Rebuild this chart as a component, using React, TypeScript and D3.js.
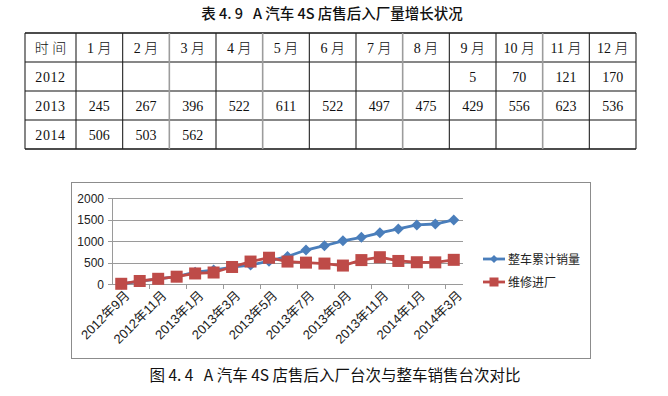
import React from "react";
import * as d3 from "d3";

const tableTitle = "表 4. 9   A 汽车 4S 店售后入厂量增长状况";
const tableHeader = ["时 间", "1 月", "2 月", "3 月", "4 月", "5 月", "6 月", "7 月", "8 月", "9 月", "10 月", "11 月", "12 月"];
const row2012 = ["2012", "", "", "", "", "", "", "", "", "5", "70", "121", "170"];
const row2013 = ["2013", "245", "267", "396", "522", "611", "522", "497", "475", "429", "556", "623", "536"];
const row2014 = ["2014", "506", "503", "562", "", "", "", "", "", "", "", "", ""];
const grayColLines = [3, 5, 8, 11];

const months = [
  "2012年9月", "2012年10月", "2012年11月", "2012年12月",
  "2013年1月", "2013年2月", "2013年3月", "2013年4月", "2013年5月", "2013年6月",
  "2013年7月", "2013年8月", "2013年9月", "2013年10月", "2013年11月", "2013年12月",
  "2014年1月", "2014年2月", "2014年3月",
];
const salesCum = [0, 60, 120, 170, 275, 325, 390, 440, 530, 640, 790, 890, 1005, 1085, 1190, 1280, 1375, 1395, 1490];
const serviceIn = [5, 70, 121, 170, 245, 267, 396, 522, 611, 522, 497, 475, 429, 556, 623, 536, 506, 503, 562];
const yTicks = [0, 500, 1000, 1500, 2000];
const seriesNames = ["整车累计销量", "维修进厂"];
const caption = "图 4. 4   A 汽车 4S 店售后入厂台次与整车销售台次对比";

const BLUE = "#4A7EBB";
const RED = "#BE4B48";
const GRID = "#9a9a9a";
const chartFont = "'Liberation Sans', 'Noto Sans CJK SC', sans-serif";
const serifFont = "'Liberation Serif', 'Noto Sans CJK SC', serif";
const pre = { whiteSpace: "pre" as const };

export default function App() {
  // table geometry
  const tLeft = 25, tRight = 636, tTop = 33, rowH = 29;
  const firstW = 51;
  const colW = (tRight - tLeft - firstW) / 12;
  const colX = (i: number) => (i === 0 ? tLeft : tLeft + firstW + (i - 1) * colW);
  const colC = (i: number) => (i === 0 ? tLeft + firstW / 2 : colX(i) + colW / 2);
  const rows = [tableHeader, row2012, row2013, row2014];
  const tBottom = tTop + rowH * rows.length;

  // chart geometry
  const pL = 112, pR = 463, pT = 198, pB = 284;
  const x = d3.scaleBand<string>().domain(months).range([pL, pR]).paddingInner(0).paddingOuter(0);
  const y = d3.scaleLinear().domain([0, 2000]).range([pB, pT]);
  const cx = (i: number) => (x(months[i]) as number) + x.bandwidth() / 2;
  const line = d3.line<number>().x((_, i) => cx(i)).y((d) => y(d));
  const diamond = (s: number) => `M0,${-s}L${s},0L0,${s}L${-s},0Z`;

  return (
    <svg width={668} height={396} style={{ position: "absolute", left: 0, top: 0, background: "#fff" }}>
      <rect x={0} y={0} width={668} height={396} fill="#fff" />
      {/* table title */}
      <text x={332} y={19} textAnchor="middle" fontFamily="'Noto Sans CJK SC', sans-serif" fontSize={14.5} fontWeight={500} fill="#111" style={pre}>
        {tableTitle}
      </text>
      {/* table cells text */}
      {rows.map((r, ri) =>
        r.map((c, ci) => (
          <text key={`t${ri}-${ci}`} x={colC(ci)} y={tTop + ri * rowH + rowH / 2 + 5} textAnchor="middle"
            fontFamily={serifFont} fontSize={14} fill="#111" style={pre} fontWeight={ri === 0 ? 300 : 400}
            letterSpacing={ci === 0 && ri > 0 ? 0.6 : 0}>
            {c}
          </text>
        ))
      )}
      {/* table lines */}
      {d3.range(rows.length + 1).map((i) => (
        <line key={`h${i}`} x1={tLeft} x2={tRight} y1={tTop + i * rowH} y2={tTop + i * rowH} stroke="#111" strokeWidth={i === 0 || i === rows.length ? 1.4 : 1.1} />
      ))}
      {d3.range(14).map((i) => (
        <line key={`v${i}`} x1={i === 13 ? tRight : colX(i)} x2={i === 13 ? tRight : colX(i)} y1={tTop} y2={tBottom}
          stroke={grayColLines.includes(i) ? "#9c9c9c" : "#222"} strokeWidth={grayColLines.includes(i) ? 1.6 : 1.1} />
      ))}

      {/* chart border */}
      <rect x={71.5} y={182.5} width={519} height={176} fill="none" stroke="#8c8c8c" strokeWidth={1} />
      {/* gridlines */}
      {yTicks.map((t) => (
        <g key={`g${t}`}>
          <line x1={pL - 4} x2={pR} y1={Math.round(y(t)) + 0.5} y2={Math.round(y(t)) + 0.5} stroke={GRID} strokeWidth={1} />
          <text x={104} y={y(t) + 4.5} textAnchor="end" fontFamily={chartFont} fontSize={12} fill="#222">{t}</text>
        </g>
      ))}
      <line x1={pL + 0.5} x2={pL + 0.5} y1={pT} y2={pB} stroke={GRID} />
      {d3.range(2, months.length, 2).map((k) => {
        const xx = Math.round(pL + k * x.bandwidth()) + 0.5;
        return <line key={`tk${k}`} x1={xx} x2={xx} y1={pB} y2={pB + 5} stroke={GRID} />;
      })}
      {months.map((m, i) =>
        i % 2 === 0 ? (
          <text key={`xl${i}`} transform={`translate(${cx(i) + 6},${pB + 9}) rotate(-45)`} textAnchor="end"
            fontFamily={chartFont} fontSize={13} fill="#222" dy="0.35em">
            {m}
          </text>
        ) : null
      )}
      {/* series */}
      <path d={line(salesCum) || ""} fill="none" stroke={BLUE} strokeWidth={2.8} strokeLinejoin="round" />
      {salesCum.map((v, i) => (
        <path key={`b${i}`} d={diamond(5.5)} transform={`translate(${cx(i)},${y(v)})`} fill={BLUE} />
      ))}
      <path d={line(serviceIn) || ""} fill="none" stroke={RED} strokeWidth={2.8} strokeLinejoin="round" />
      {serviceIn.map((v, i) => (
        <rect key={`r${i}`} x={cx(i) - 6} y={y(v) - 6} width={12} height={12} fill={RED} />
      ))}
      {/* legend */}
      <line x1={483} x2={505} y1={259} y2={259} stroke={BLUE} strokeWidth={2.8} />
      <path d={diamond(4)} transform="translate(494,259)" fill={BLUE} />
      <text x={508} y={263.5} fontFamily={chartFont} fontSize={12} fill="#222">{seriesNames[0]}</text>
      <line x1={483} x2={505} y1={282} y2={282} stroke={RED} strokeWidth={2.8} />
      <rect x={489.5} y={277.5} width={9} height={9} fill={RED} />
      <text x={508} y={286.5} fontFamily={chartFont} fontSize={12} fill="#222">{seriesNames[1]}</text>

      {/* caption */}
      <text x={335} y={381} textAnchor="middle" fontFamily="'Noto Sans CJK SC', sans-serif" fontSize={15.5} fill="#111" style={pre}>
        {caption}
      </text>
    </svg>
  );
}
